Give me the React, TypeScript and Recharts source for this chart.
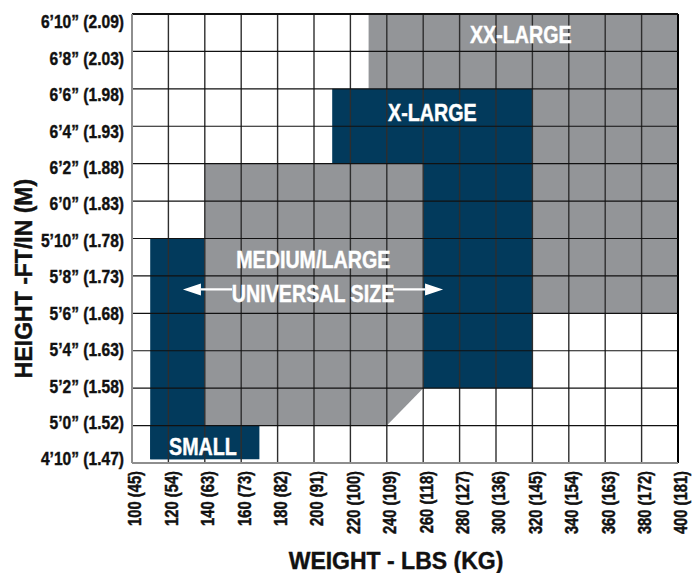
import React from 'react'
import { ComposedChart, XAxis, YAxis, Area, Scatter, ReferenceArea, ReferenceLine } from 'recharts'

const NAVY = '#023a5c'
const GRAY = '#939598'
const FONT = "'Liberation Sans', Arial, sans-serif"
const SQUEEZE = 0.82 // no narrow face installed, so the bold face is squeezed

// weight axis (lbs), labels carry kg in brackets
const weightTicks = [100, 120, 140, 160, 180, 200, 220, 240, 260, 280, 300, 320, 340, 360, 380, 400]
const weightLabels = [
  '100 (45)', '120 (54)', '140 (63)', '160 (73)', '180 (82)', '200 (91)', '220 (100)', '240 (109)',
  '260 (118)', '280 (127)', '300 (136)', '320 (145)', '340 (154)', '360 (163)', '380 (172)', '400 (181)',
]

// height axis in inches
const heightTicks = [58, 60, 62, 64, 66, 68, 70, 72, 74, 76, 78, 80, 82]
const heightLabels = [
  '4’10” (1.47)', '5’0” (1.52)', '5’2” (1.58)', '5’4” (1.63)', '5’6” (1.68)', '5’8” (1.73)', '5’10” (1.78)',
  '6’0” (1.83)', '6’2” (1.88)', '6’4” (1.93)', '6’6” (1.98)', '6’8” (2.03)', '6’10” (2.09)',
]

// size zones: weight range x height range
const xxLargeBlocks = [
  { x1: 230, x2: 400, y1: 78, y2: 82 },
  { x1: 320, x2: 400, y1: 66, y2: 78 },
]
const xLargeBlocks = [
  { x1: 210, x2: 320, y1: 74, y2: 78 },
  { x1: 260, x2: 320, y1: 62, y2: 74 },
]
const smallBlocks = [
  { x1: 110, x2: 140, y1: 58.2, y2: 70 },
  { x1: 110, x2: 170, y1: 58.2, y2: 60 },
]
// medium/large has a cut corner, drawn as a range area
const mediumOutline = [
  { w: 140, span: [60, 74] },
  { w: 240, span: [60, 74] },
  { w: 260, span: [62, 74] },
]

const zoneLabels = [
  { w: 313.6, h: 80.9, text: 'XX-LARGE' },
  { w: 265, h: 76.75, text: 'X-LARGE' },
  { w: 199.6, h: 68.9, text: 'MEDIUM/LARGE' },
  { w: 199.5, h: 67.05, text: 'UNIVERSAL SIZE' },
  { w: 139, h: 58.9, text: 'SMALL' },
]

const arrows = [
  { from: 155, to: 128, h: 67.28 },
  { from: 243.4, to: 270.9, h: 67.28 },
]

function Narrow({ x, y, angle = 0, size, anchor = 'middle', fill = '#111', children }: any) {
  return (
    <g transform={`translate(${x}, ${y}) rotate(${angle}) scale(${SQUEEZE}, 1)`}>
      <text x={0} y={0} dy="0.36em" textAnchor={anchor} fontFamily={FONT} fontWeight={700} fontSize={size}
        fill={fill} stroke={fill} strokeWidth={0.45}>
        {children}
      </text>
    </g>
  )
}

function WeightTick({ x, y, payload }: any) {
  return (
    <Narrow x={x + 3} y={y} angle={-90} size={18} anchor="end">
      {weightLabels[weightTicks.indexOf(payload.value)]}
    </Narrow>
  )
}

function HeightTick({ x, y, payload }: any) {
  return (
    <Narrow x={x} y={y} size={19} anchor="end">
      {heightLabels[heightTicks.indexOf(payload.value)]}
    </Narrow>
  )
}

function ZoneLabel({ cx, cy, payload }: any) {
  return (
    <Narrow x={cx} y={cy} size={24} fill="#fff">
      {payload.text}
    </Narrow>
  )
}

function Arrow({ x1, y1, x2, y2 }: any) {
  const dir = Math.sign(x2 - x1)
  const head = 18
  return (
    <g>
      <line x1={x1} y1={y1} x2={x2 - dir * head} y2={y2} stroke="#fff" strokeWidth={2.2} />
      <polygon points={`${x2},${y2} ${x2 - dir * head},${y2 - 6} ${x2 - dir * head},${y2 + 6}`} fill="#fff" />
    </g>
  )
}

function XTitle({ viewBox }: any) {
  const { x, y, width, height } = viewBox
  return (
    <text x={x + width / 2 - 9} y={y + height - 4} textAnchor="middle" fontFamily={FONT} fontWeight={700} fontSize={23}
      fill="#111" stroke="#111" strokeWidth={0.4}>
      WEIGHT - LBS (KG)
    </text>
  )
}

function YTitle({ viewBox }: any) {
  const { y, height } = viewBox
  const cx = 24
  const cy = y + height / 2 + 40
  return (
    <text x={cx} y={cy} transform={`rotate(-90, ${cx}, ${cy})`} textAnchor="middle" dy="0.36em"
      fontFamily={FONT} fontWeight={700} fontSize={23} fill="#111" stroke="#111" strokeWidth={0.4}>
      HEIGHT -FT/IN (M)
    </text>
  )
}

export default function App() {
  return (
    <div style={{ position: 'absolute', left: 0, top: 0, background: '#fff' }}>
      <ComposedChart width={692} height={573} margin={{ top: 14, right: 14, bottom: 0, left: 0 }}>
        <XAxis
          dataKey="w"
          type="number"
          domain={[100, 400]}
          allowDataOverflow
          ticks={weightTicks}
          interval={0}
          tick={<WeightTick />}
          tickLine={false}
          axisLine={{ stroke: '#8e8e8e', strokeWidth: 2 }}
          height={110}
          label={{ content: (p: any) => <XTitle {...p} /> }}
        />
        <YAxis dataKey="h" type="number" domain={[58, 82]} allowDataOverflow hide width={0} />
        <YAxis
          yAxisId="lab"
          type="number"
          domain={[57.75, 82.42]}
          allowDataOverflow
          ticks={heightTicks}
          interval={0}
          tick={<HeightTick />}
          tickLine={false}
          axisLine={{ stroke: '#8e8e8e', strokeWidth: 2 }}
          width={132}
          label={{ content: (p: any) => <YTitle {...p} /> }}
        />

        {xxLargeBlocks.map((b, i) => (
          <ReferenceArea key={`xx${i}`} {...b} fill={GRAY} fillOpacity={1} stroke="none" />
        ))}
        {xLargeBlocks.map((b, i) => (
          <ReferenceArea key={`xl${i}`} {...b} fill={NAVY} fillOpacity={1} stroke="none" />
        ))}
        {smallBlocks.map((b, i) => (
          <ReferenceArea key={`s${i}`} {...b} fill={NAVY} fillOpacity={1} stroke="none" />
        ))}
        <Area
          data={mediumOutline}
          dataKey="span"
          type="linear"
          fill={GRAY}
          fillOpacity={1}
          stroke="none"
          isAnimationActive={false}
          activeDot={false}
          dot={false}
        />

        {weightTicks.slice(1).map((w) => (
          <ReferenceLine key={`v${w}`} x={w} stroke={w === 400 ? '#000' : '#2e2e2e'} strokeWidth={w === 400 ? 2 : 1.4} />
        ))}
        {heightTicks.slice(1).map((h) => (
          <ReferenceLine key={`h${h}`} y={h} stroke="#111" strokeWidth={h === 82 ? 2 : 1.2} />
        ))}

        {arrows.map((a, i) => (
          <ReferenceLine
            key={`a${i}`}
            segment={[{ x: a.from, y: a.h }, { x: a.to, y: a.h }]}
            shape={(p: any) => <Arrow {...p} />}
          />
        ))}
        <Scatter data={zoneLabels} shape={(p: any) => <ZoneLabel {...p} />} isAnimationActive={false} />
      </ComposedChart>
    </div>
  )
}
